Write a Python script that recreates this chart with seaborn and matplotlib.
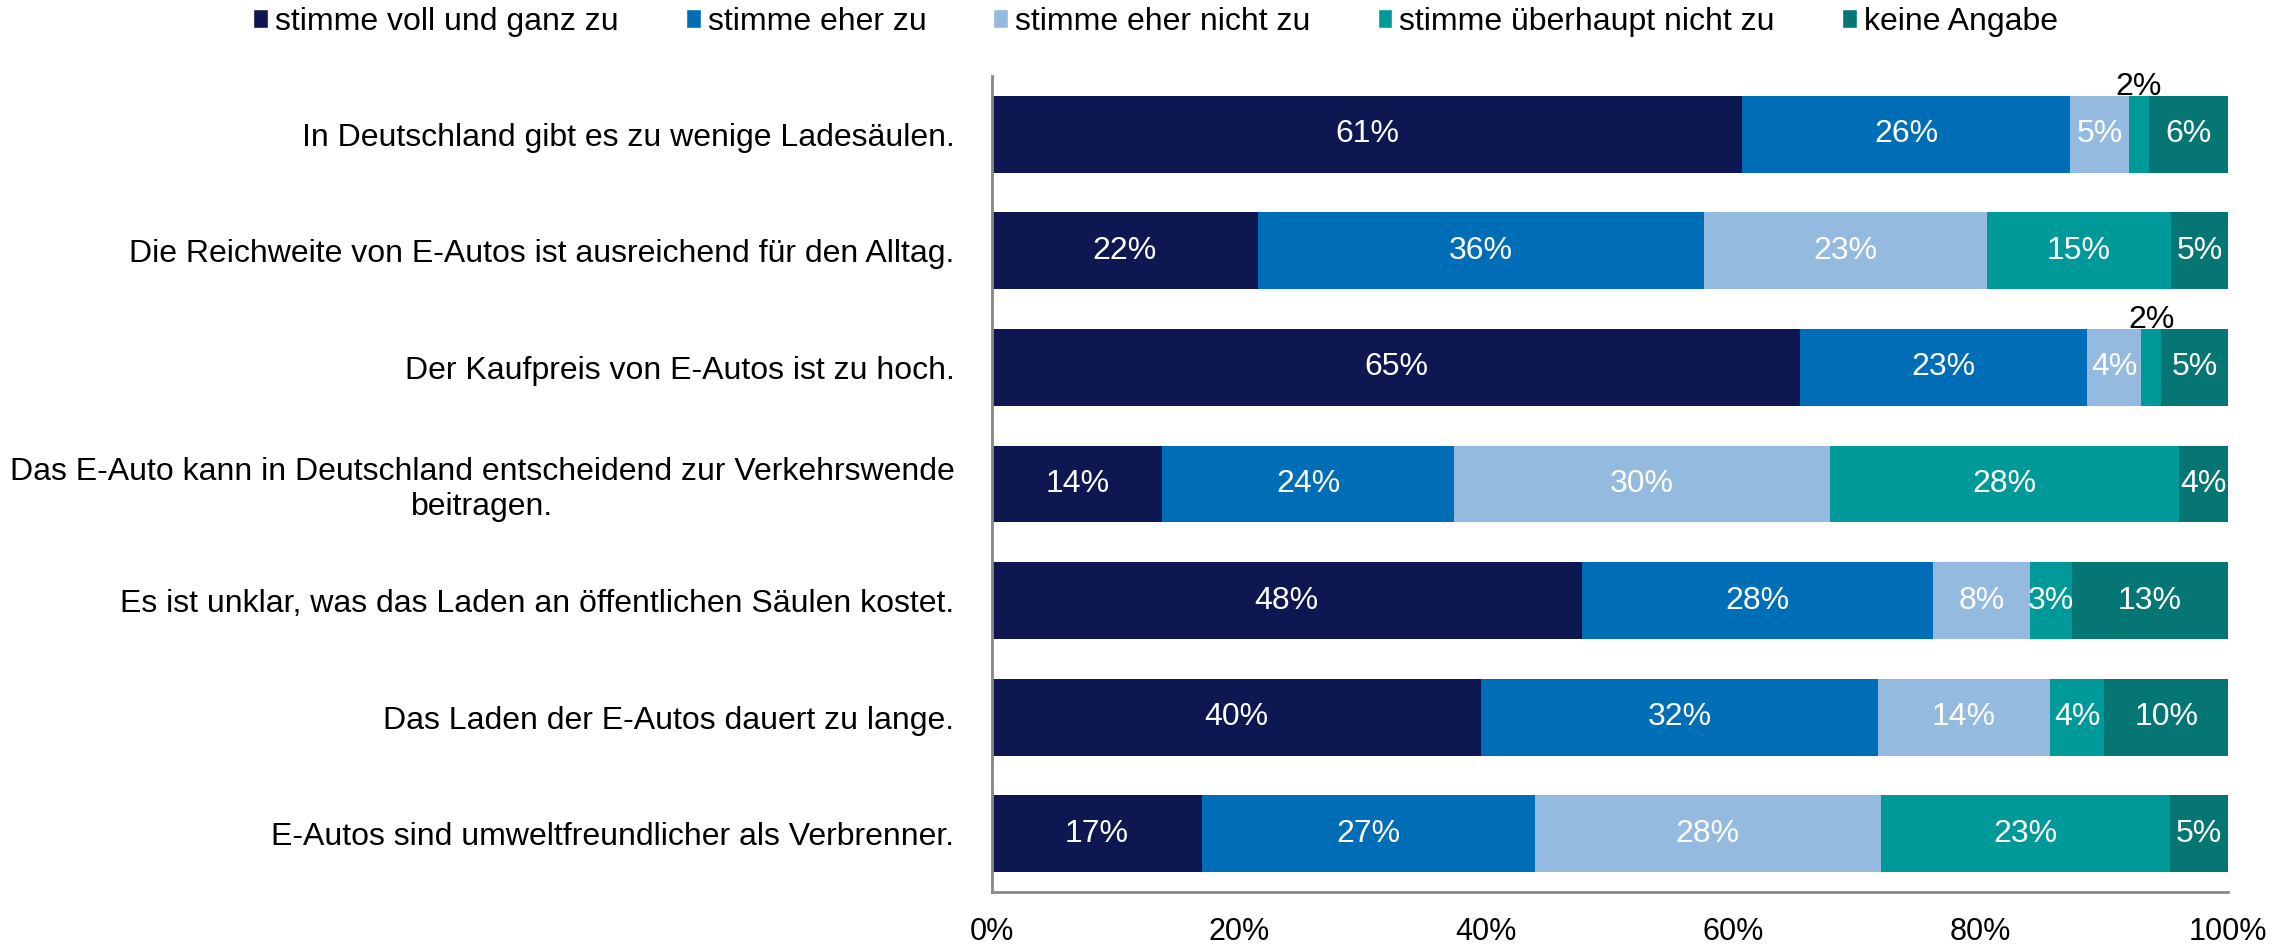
import matplotlib
matplotlib.use("Agg")
import matplotlib.pyplot as plt
from matplotlib.patches import Patch
import numpy as np
import pandas as pd
import seaborn as sns

aussagen = [
    "In Deutschland gibt es zu wenige Ladesäulen.",
    "Die Reichweite von E-Autos ist ausreichend für den Alltag.",
    "Der Kaufpreis von E-Autos ist zu hoch.",
    "Das E-Auto kann in Deutschland entscheidend zur Verkehrswende\nbeitragen.",
    "Es ist unklar, was das Laden an öffentlichen Säulen kostet.",
    "Das Laden der E-Autos dauert zu lange.",
    "E-Autos sind umweltfreundlicher als Verbrenner.",
]
antworten = ["stimme voll und ganz zu", "stimme eher zu", "stimme eher nicht zu",
             "stimme überhaupt nicht zu", "keine Angabe"]
farben = ["#0e1752", "#006eb6", "#94bbdf", "#009999", "#057673"]

voll = [60.7, 21.5, 65.4, 13.8, 47.7, 39.6, 17.0]
eher = [26.5, 36.1, 23.2, 23.6, 28.4, 32.1, 26.9]
eher_nicht = [4.8, 22.9, 4.4, 30.4, 7.9, 13.9, 28.0]
ueberhaupt_nicht = [1.6, 14.9, 1.6, 28.2, 3.4, 4.4, 23.4]
keine = [6.4, 4.6, 5.4, 4.0, 12.6, 10.0, 4.7]

df = pd.DataFrame({"aussage": aussagen, antworten[0]: voll, antworten[1]: eher,
                   antworten[2]: eher_nicht, antworten[3]: ueberhaupt_nicht,
                   antworten[4]: keine})
werte = df[antworten].to_numpy()
kumuliert = werte.cumsum(axis=1)

sns.set_style("white")
plt.rcParams['font.family'] = ['Liberation Sans', 'DejaVu Sans']
plt.rcParams['text.color'] = 'black'
plt.rcParams['xtick.labelcolor'] = 'black'
plt.rcParams['ytick.labelcolor'] = 'black'

fig = plt.figure(figsize=(22.95, 9.44), dpi=100)
ax = fig.add_axes([0.4322, 0.0551, 0.5386, 0.8644])

# gestapelte Balken: von hinten nach vorne zeichnen
for i in reversed(range(len(antworten))):
    sns.barplot(x=kumuliert[:, i], y=df["aussage"], orient="h", color=farben[i],
                width=0.66, ax=ax, saturation=1, linewidth=0)

# Beschriftungen
for r in range(len(aussagen)):
    for i in range(len(antworten)):
        w = werte[r, i]
        mitte = kumuliert[r, i] - w / 2
        txt = f"{round(w):.0f}%"
        if w < 2.5:
            ax.text(mitte, r - 0.335, txt, ha="center", va="baseline", fontsize=23, color="black")
        else:
            ax.text(mitte, r, txt, ha="center", va="center", fontsize=23, color="white")

ax.set_xlim(0, 100)
ax.set_ylim(6.5, -0.5)
ax.set_xticks(np.arange(0, 101, 20))
ax.set_xticklabels([f"{v}%" for v in range(0, 101, 20)], fontsize=22)
ax.set_xlabel("")
ax.set_ylabel("")
ax.tick_params(axis="y", length=0, pad=27, labelsize=23)
for lbl in ax.get_yticklabels():
    lbl.set_multialignment("center")
ax.set_yticks(np.arange(-0.5, 7, 1), minor=True)
ax.tick_params(axis="y", which="minor", length=8, color="#888888", width=2)
ax.tick_params(axis="x", length=10, color="#888888", width=2, pad=8)

sns.despine(ax=ax, top=True, right=True)
for s in ["left", "bottom"]:
    ax.spines[s].set_color("#888888")
    ax.spines[s].set_linewidth(2)

handles = [Patch(facecolor=c, label=a) for c, a in zip(farben, antworten)]
leg = fig.legend(handles=handles, loc="center", bbox_to_anchor=(0.5035, 0.977), ncol=5,
                 frameon=False, fontsize=23, handlelength=0.46, handleheight=0.55,
                 handletextpad=0.22, columnspacing=2.1, borderpad=0.1)
for t in leg.get_texts():
    t.set_color("black")

plt.savefig("out.png", dpi=100)
